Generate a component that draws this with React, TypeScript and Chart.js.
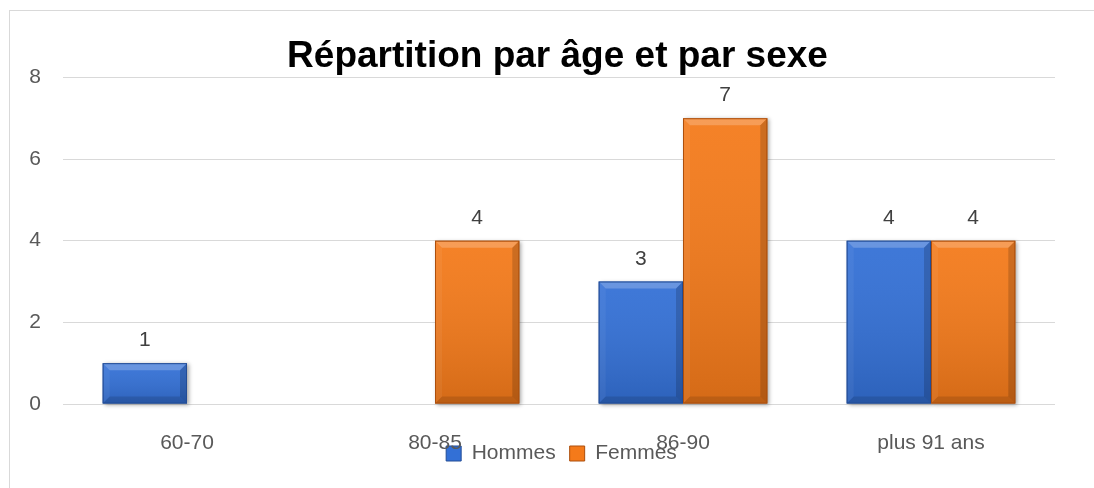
import React, { useEffect, useRef } from "react";
import { Chart, registerables } from "chart.js";

Chart.register(...registerables);

const categories = ["60-70", "80-85", "86-90", "plus 91 ans"];
const hommes = [1, 0, 3, 4];
const femmes = [0, 4, 7, 4];
const seriesNames = ["Hommes", "Femmes"];
const titleText = "Répartition par âge et par sexe";
const yMin = 0;
const yMax = 8;
const yStep = 2;

const baseColors = ["#3370d6", "#f47a1a"];
const edgeColors = ["#224c96", "#ad4f0c"];
const FONT = "'Liberation Sans', Arial, sans-serif";

function barRects(chart: any, cb: (r: any, di: number, v: number) => void) {
  chart.data.datasets.forEach((ds: any, di: number) => {
    const meta = chart.getDatasetMeta(di);
    if (meta.hidden) return;
    meta.data.forEach((el: any, i: number) => {
      const v = ds.data[i];
      if (!v) return;
      const p = el.getProps(["x", "y", "base", "width"], true);
      const l = p.x - p.width / 2;
      const r = p.x + p.width / 2;
      cb({ l, r, t: p.y, b: p.base, x: p.x, w: p.width }, di, v);
    });
  });
}

function poly(ctx: CanvasRenderingContext2D, pts: number[][], fill: string) {
  ctx.beginPath();
  ctx.moveTo(pts[0][0], pts[0][1]);
  for (let i = 1; i < pts.length; i++) ctx.lineTo(pts[i][0], pts[i][1]);
  ctx.closePath();
  ctx.fillStyle = fill;
  ctx.fill();
}

// widen the label clip areas of the compact axes so their tick labels stay visible,
// and nudge the legend to its place under the plot
const layoutTweakPlugin = {
  id: "layoutTweak",
  beforeDraw(chart: any) {
    const y = chart.scales.y;
    const x = chart.scales.x;
    if (y) y.left = 0;
    if (x) x.bottom = chart.height;
    const lg = chart.legend;
    if (lg && !lg._shifted) {
      lg.left += 4;
      lg.right += 4;
      lg._shifted = true;
    }
  },
};

const bevelPlugin = {
  id: "bevel",
  beforeDatasetsDraw(chart: any) {
    const ctx = chart.ctx as CanvasRenderingContext2D;
    barRects(chart, (r) => {
      ctx.save();
      ctx.shadowColor = "rgba(0,0,0,0.35)";
      ctx.shadowBlur = 4;
      ctx.shadowOffsetX = 2;
      ctx.shadowOffsetY = 1;
      ctx.fillStyle = "#999";
      ctx.fillRect(r.l, r.t, r.w, r.b - r.t);
      ctx.restore();
    });
  },
  afterDatasetsDraw(chart: any) {
    const ctx = chart.ctx as CanvasRenderingContext2D;
    barRects(chart, (r, di, v) => {
      const h = r.b - r.t;
      const bv = Math.min(7, h / 2, r.w / 2);
      ctx.save();
      const g = ctx.createLinearGradient(0, r.t, 0, r.b);
      g.addColorStop(0, "rgba(255,255,255,0.06)");
      g.addColorStop(1, "rgba(0,0,0,0.13)");
      ctx.fillStyle = g;
      ctx.fillRect(r.l, r.t, r.w, h);
      poly(ctx, [[r.l, r.t], [r.r, r.t], [r.r - bv, r.t + bv], [r.l + bv, r.t + bv]], "rgba(255,255,255,0.22)");
      poly(ctx, [[r.l, r.t], [r.l + bv, r.t + bv], [r.l + bv, r.b - bv], [r.l, r.b]], "rgba(255,255,255,0.05)");
      poly(ctx, [[r.r, r.t], [r.r, r.b], [r.r - bv, r.b - bv], [r.r - bv, r.t + bv]], "rgba(0,0,0,0.16)");
      poly(ctx, [[r.l, r.b], [r.r, r.b], [r.r - bv, r.b - bv], [r.l + bv, r.b - bv]], "rgba(0,0,0,0.12)");
      ctx.strokeStyle = edgeColors[di];
      ctx.lineWidth = 1;
      ctx.strokeRect(r.l + 0.5, r.t + 0.5, r.w - 1, h - 1);
      ctx.restore();

      ctx.save();
      ctx.font = `21px ${FONT}`;
      ctx.fillStyle = "#404040";
      ctx.textAlign = "center";
      ctx.textBaseline = "alphabetic";
      ctx.fillText(String(v), r.x, r.t - 17);
      ctx.restore();
    });
  },
};

export default function App() {
  const canvasRef = useRef<HTMLCanvasElement | null>(null);

  useEffect(() => {
    if (!canvasRef.current) return;
    const chart = new Chart(canvasRef.current, {
      type: "bar",
      data: {
        labels: categories,
        datasets: [
          { label: seriesNames[0], data: hommes, backgroundColor: baseColors[0], borderWidth: 0 },
          { label: seriesNames[1], data: femmes, backgroundColor: baseColors[1], borderWidth: 0 },
        ],
      },
      options: {
        responsive: true,
        maintainAspectRatio: false,
        animation: false,
        layout: { padding: { left: 50, right: 39, top: 0, bottom: 14 } },
        datasets: { bar: { barPercentage: 1, categoryPercentage: 0.68 } },
        scales: {
          x: {
            grid: { display: false },
            border: { display: false },
            ticks: { font: { family: FONT, size: 21 }, color: "#595959", padding: 19, maxRotation: 0, autoSkip: false },
            afterFit: (s: any) => { s.height = 25; },
          },
          y: {
            min: yMin,
            max: yMax,
            grid: { color: "#d9d9d9", lineWidth: 1, drawTicks: false },
            border: { display: false },
            ticks: { stepSize: yStep, font: { family: FONT, size: 21 }, color: "#595959", padding: 22 },
            afterFit: (s: any) => { s.width = 3; },
          },
        },
        plugins: {
          tooltip: { enabled: false },
          title: {
            display: true,
            text: titleText,
            color: "#000000",
            font: { family: FONT, size: 37, weight: "bold", lineHeight: 1.2 },
            padding: { top: 24, bottom: -2 },
          },
          legend: {
            position: "bottom",
            labels: {
              boxWidth: 15,
              boxHeight: 15,
              padding: 14,
              color: "#595959",
              font: { family: FONT, size: 21 },
              generateLabels: (c: any) =>
                c.data.datasets.map((ds: any, i: number) => ({
                  text: ds.label,
                  fillStyle: baseColors[i],
                  strokeStyle: edgeColors[i],
                  lineWidth: 1,
                  hidden: false,
                  datasetIndex: i,
                  fontColor: "#595959",
                })),
            },
          },
        },
      },
      plugins: [layoutTweakPlugin, bevelPlugin],
    } as any);
    return () => chart.destroy();
  }, []);

  return (
    <div
      style={{
        position: "absolute",
        left: 9,
        top: 10,
        width: 1085,
        height: 478,
        borderLeft: "1px solid #d9d9d9",
        borderTop: "1px solid #d9d9d9",
        boxSizing: "border-box",
        background: "#ffffff",
      }}
    >
      <div style={{ position: "relative", width: 1084, height: 477 }}>
        <canvas ref={canvasRef} />
      </div>
    </div>
  );
}
